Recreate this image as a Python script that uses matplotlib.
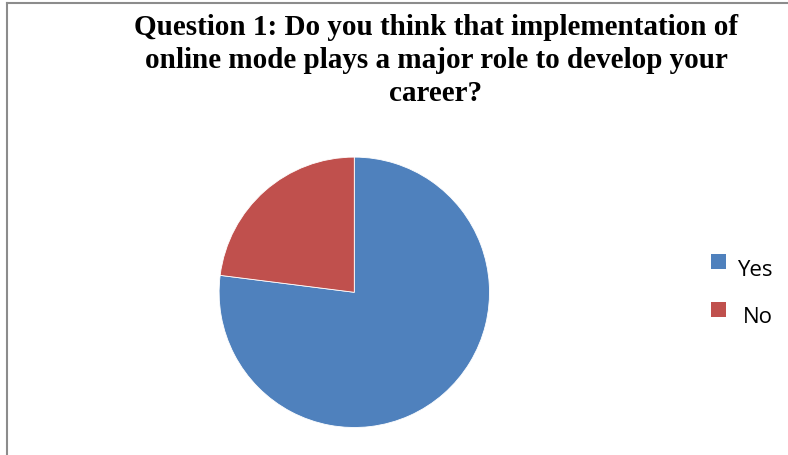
import matplotlib
matplotlib.use("Agg")
import matplotlib.pyplot as plt
from matplotlib.lines import Line2D
from matplotlib.patches import Rectangle

title = "Question 1: Do you think that implementation of\nonline mode plays a major role to develop your\ncareer?"
labels = ["Yes", "No"]
values = [77, 23]
colors = ["#4F81BD", "#C0504D"]

W, H = 788, 456
fig = plt.figure(figsize=(W / 100, H / 100), dpi=100)
fig.patch.set_facecolor("white")

def fx(px):
    return px / W

def fy(py):
    return 1 - py / H

# chart frame (only top and left edges visible)
fig.add_artist(Line2D([fx(6.5), fx(6.5)], [0, fy(3.5)], transform=fig.transFigure,
                      color="#8c8c8c", lw=1.5))
fig.add_artist(Line2D([fx(6.5), 1], [fy(3.5), fy(3.5)], transform=fig.transFigure,
                      color="#8c8c8c", lw=1.5))

cx, cy, r = 354.3, 293.3, 135.2
ax = fig.add_axes([fx(cx - r), fy(cy + r), 2 * r / W, 2 * r / H])
wedges, _ = ax.pie(values, colors=colors, startangle=90, counterclock=False,
                   wedgeprops=dict(edgecolor="white", linewidth=0.6))
ax.set_xlim(-1, 1)
ax.set_ylim(-1, 1)
ax.set_aspect("equal")
ax.axis("off")

fig.text(fx(436), fy(14), title, ha="center", va="top",
         family="Liberation Serif", weight="bold", fontsize=21, linespacing=1.28)

# legend entries
sq = 14.5
text_x = [737, 743]
for i, (lab, col) in enumerate(zip(labels, colors)):
    top = 255 + 48 * i
    fig.add_artist(Rectangle((fx(711), fy(top + sq)), sq / W, sq / H,
                             transform=fig.transFigure, facecolor=col, edgecolor="none"))
    fig.text(fx(text_x[i]), fy(276.5 + 47 * i), lab, ha="left", va="baseline",
             family="Open Sans", fontsize=16, color="black")

fig.savefig("out.png", dpi=100, facecolor="white")
